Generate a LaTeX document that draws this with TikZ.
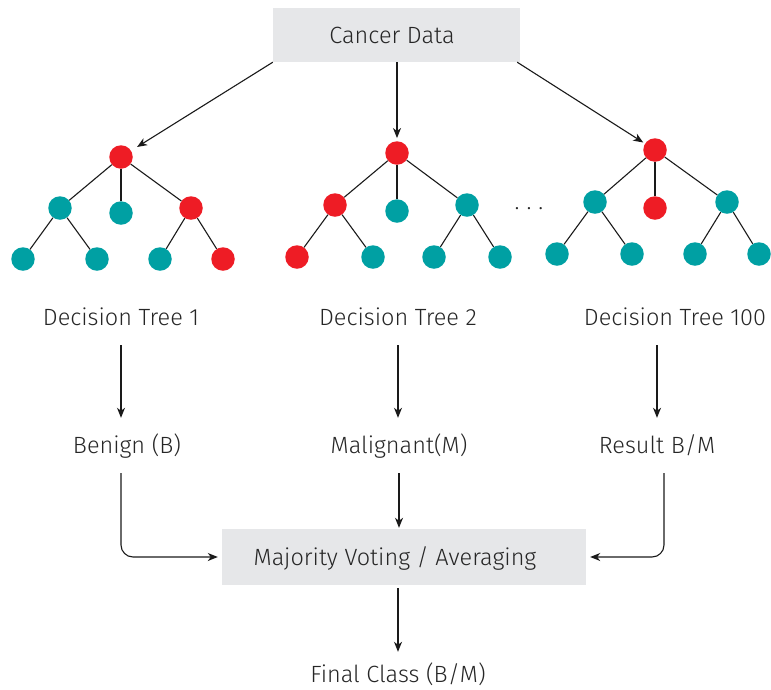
\documentclass[tikz,border=0pt]{standalone}
\usepackage{fontspec}
\setmainfont{Fira Sans Light}
\usetikzlibrary{arrows.meta}
\definecolor{nred}{HTML}{EE1C25}
\definecolor{nteal}{HTML}{00A0A3}
\definecolor{boxgray}{HTML}{E6E7E9}
\definecolor{txt}{HTML}{262626}
\definecolor{ln}{HTML}{1A1A1A}
\tikzset{
  rn/.style={circle, fill=nred, minimum size=23.5pt, inner sep=0pt},
  tn/.style={circle, fill=nteal, minimum size=23.5pt, inner sep=0pt},
  edge/.style={draw=ln, line width=1.1pt},
  arr/.style={draw=ln, line width=1.1pt, -{Stealth[length=10pt,width=8pt,inset=3pt]}},
  lbl/.style={font=\fontsize{23.5}{27}\selectfont, text=txt, inner sep=0pt, text height=17pt, text depth=5pt},
  graybox/.style={fill=boxgray, inner sep=0pt},
}
\begin{document}
\begin{tikzpicture}[x=1pt,y=-1pt]
\useasboundingbox (0,0) rectangle (771,689);
% top box
\node[graybox, minimum width=247pt, minimum height=54pt] (cancer) at (396.5,35) {};
\node[lbl] (cancertxt) at (392,37) {Cancer Data};
% Tree 1
\node[rn] (t1r) at (121,157) {};
\node[tn] (t1a) at (60,208) {};
\node[tn] (t1b) at (121,213) {};
\node[rn] (t1c) at (191,208) {};
\node[tn] (t1d) at (23,259) {};
\node[tn] (t1e) at (97,259) {};
\node[tn] (t1f) at (160,259) {};
\node[rn] (t1g) at (223,259) {};
% Tree 2
\node[rn] (t2r) at (397,153) {};
\node[rn] (t2a) at (335,205) {};
\node[tn] (t2b) at (397,211) {};
\node[tn] (t2c) at (467,205) {};
\node[rn] (t2d) at (297,257) {};
\node[tn] (t2e) at (373,257) {};
\node[tn] (t2f) at (434,257) {};
\node[tn] (t2g) at (500,257) {};
% Tree 3
\node[rn] (t3r) at (655,150) {};
\node[tn] (t3a) at (595,202) {};
\node[rn] (t3b) at (655,208) {};
\node[tn] (t3c) at (727,202) {};
\node[tn] (t3d) at (557,254) {};
\node[tn] (t3e) at (632,254) {};
\node[tn] (t3f) at (695,254) {};
\node[tn] (t3g) at (759,254) {};
% edges
\foreach \t in {1,2,3}{
  \draw[edge] (t\t r) -- (t\t a);
  \draw[edge] (t\t r) -- (t\t b);
  \draw[edge] (t\t r) -- (t\t c);
}
\draw[edge] (t1a) -- (t1d); \draw[edge] (t1a) -- (t1e);
\draw[edge] (t1c) -- (t1f); \draw[edge] (t1c) -- (t1g);
\draw[edge] (t2a) -- (t2d); \draw[edge] (t2a) -- (t2e);
\draw[edge] (t2c) -- (t2f); \draw[edge] (t2c) -- (t2g);
\draw[edge] (t3a) -- (t3d); \draw[edge] (t3a) -- (t3e);
\draw[edge] (t3c) -- (t3f); \draw[edge] (t3c) -- (t3g);
% dots
\node[lbl] (dots) at (529,203) {.\hspace{7pt}.\hspace{7pt}.};
% arrows from top
\draw[arr, shorten >=7pt] (cancer.south west) -- (t1r);
\draw[arr, shorten >=3pt] (cancer.south -| t2r) -- (t2r);
\draw[arr, shorten >=2pt] ([xshift=-3pt]cancer.south east) -- (t3r);
% labels
\node[lbl] (dt1) at (121,319) {Decision Tree 1};
\node[lbl] (dt2) at (398,319) {Decision Tree 2};
\node[lbl] (dt3) at (675,319) {Decision Tree 100};
\node[lbl] (benign) at (127,447) {Benign (B)};
\node[lbl] (malig) at (399,447) {Malignant(M)};
\node[lbl] (result) at (657,447) {Result B/M};
% vote box
\node[graybox, minimum width=364pt, minimum height=56pt] (vote) at (404,557) {};
\node[lbl] (votetxt) at (395,559) {Majority Voting / Averaging};
\node[lbl] (final) at (398,676) {Final Class (B/M)};
% vertical arrows
\draw[arr, shorten <=15pt, shorten >=18pt] (dt1.south -| 121,0) -- (121,0 |- benign.north);
\draw[arr, shorten <=15pt, shorten >=18pt] (dt2.south) -- (dt2.south |- malig.north);
\draw[arr, shorten <=15pt, shorten >=18pt] (result.north |- dt3.south) -- (result.north);
% elbows
\draw[arr, rounded corners=12pt, shorten <=15pt, shorten >=4pt] ([xshift=-6pt]benign.south) |- (vote.west);
\draw[arr, rounded corners=12pt, shorten <=15pt, shorten >=4pt] ([xshift=7pt]result.south) |- (vote.east);
\draw[arr, shorten <=15pt, shorten >=1pt] (malig.south) -- (malig.south |- vote.north);
\draw[arr, shorten <=3pt, shorten >=13pt] (vote.south -| final) -- (final.north);
\end{tikzpicture}
\end{document}
